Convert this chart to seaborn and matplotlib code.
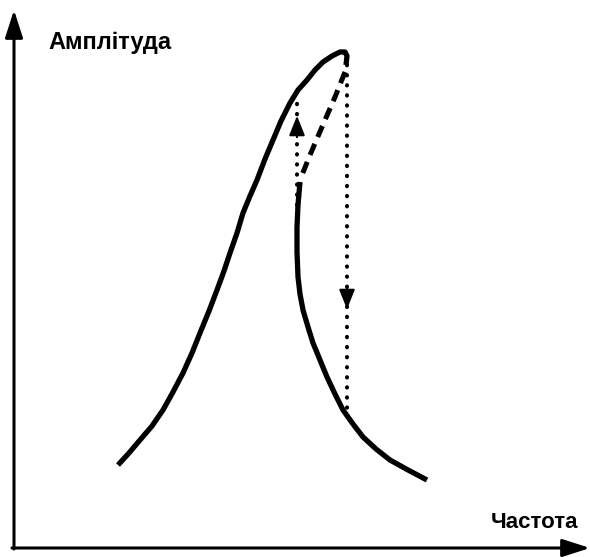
import matplotlib
matplotlib.use('Agg')
import matplotlib.pyplot as plt
import pandas as pd
import seaborn as sns

# values (pixel-like units, amplitude grows upward)
H = 557
main_freq = [118, 129, 140, 152, 163, 173, 183, 192, 200, 209, 217, 224, 230, 237, 243,
             250, 257, 265, 273, 281, 290, 298, 307, 315, 323, 332, 340, 345, 347, 346]
main_amp = [H - v for v in [465, 453, 440, 426, 410, 392, 373, 353, 333, 311, 290, 271,
                            253, 233, 213, 196, 180, 159, 140, 121, 103, 90, 80, 70, 62,
                            56, 52, 52, 56, 65]]

unstable_freq = [345, 335, 322, 310, 300]
unstable_amp = [H - v for v in [72, 97, 127, 155, 180]]

lower_freq = [300, 298, 297, 297, 298, 300, 303, 308, 313, 320, 327, 335, 343, 353,
              363, 376, 390, 408, 427]
lower_amp = [H - v for v in [182, 205, 227, 252, 277, 294, 310, 327, 343, 360, 377, 394,
                             410, 424, 437, 449, 460, 470, 480]]

jump_up_freq = 297
jump_up_amp = [H - 215, H - 97]
jump_down_freq = 347
jump_down_amp = [H - 65, H - 410]

sns.set_theme(style='white')
plt.rcParams['font.family'] = ['Liberation Sans', 'DejaVu Sans']

fig = plt.figure(figsize=(5.9, 5.57), dpi=100)
ax = fig.add_axes([0, 0, 1, 1])
ax.set_xlim(0, 590)
ax.set_ylim(0, H)
ax.axis('off')

df_main = pd.DataFrame({'f': main_freq, 'a': main_amp})
df_unst = pd.DataFrame({'f': unstable_freq, 'a': unstable_amp})
df_low = pd.DataFrame({'f': lower_freq, 'a': lower_amp})

sns.lineplot(data=df_main, x='f', y='a', sort=False, estimator=None, color='black',
             lw=3.8, ax=ax, solid_capstyle='butt', solid_joinstyle='round')
sns.lineplot(data=df_low, x='f', y='a', sort=False, estimator=None, color='black',
             lw=3.8, ax=ax, solid_capstyle='butt', solid_joinstyle='round')
sns.lineplot(data=df_unst, x='f', y='a', sort=False, estimator=None, color='black',
             lw=3.6, ax=ax, linestyle=(0, (2.4, 1.5)))

# jump lines (dotted) with arrowheads
dot = (0, (0.1, 2.4))
ax.plot([jump_up_freq] * 2, jump_up_amp, color='black', lw=2.9, linestyle=dot,
        dash_capstyle='round')
ax.plot([jump_down_freq] * 2, jump_down_amp, color='black', lw=2.9, linestyle=dot,
        dash_capstyle='round')
ax.annotate('', xy=(jump_up_freq, H - 113), xytext=(jump_up_freq, H - 140),
            arrowprops=dict(arrowstyle='-|>,head_length=1.0,head_width=0.4',
                            color='black', lw=1.5))
ax.annotate('', xy=(jump_down_freq, H - 312), xytext=(jump_down_freq, H - 285),
            arrowprops=dict(arrowstyle='-|>,head_length=1.0,head_width=0.4',
                            color='black', lw=1.5))

# axes with arrows
ax.annotate('', xy=(14, H - 10), xytext=(14, H - 549),
            arrowprops=dict(arrowstyle='-|>,head_length=1.4,head_width=0.45',
                            color='black', lw=2.2, shrinkA=0, shrinkB=0))
ax.annotate('', xy=(590, H - 548), xytext=(12, H - 548),
            arrowprops=dict(arrowstyle='-|>,head_length=1.4,head_width=0.45',
                            color='black', lw=2.2, shrinkA=0, shrinkB=0))

ax.text(48, H - 42, 'Амплітуда', fontsize=17, fontweight='bold', color='black',
        va='center', ha='left')
ax.text(578, H - 523, 'Частота', fontsize=16, fontweight='bold', color='black',
        va='center', ha='right')

fig.savefig('out.png', dpi=100)
